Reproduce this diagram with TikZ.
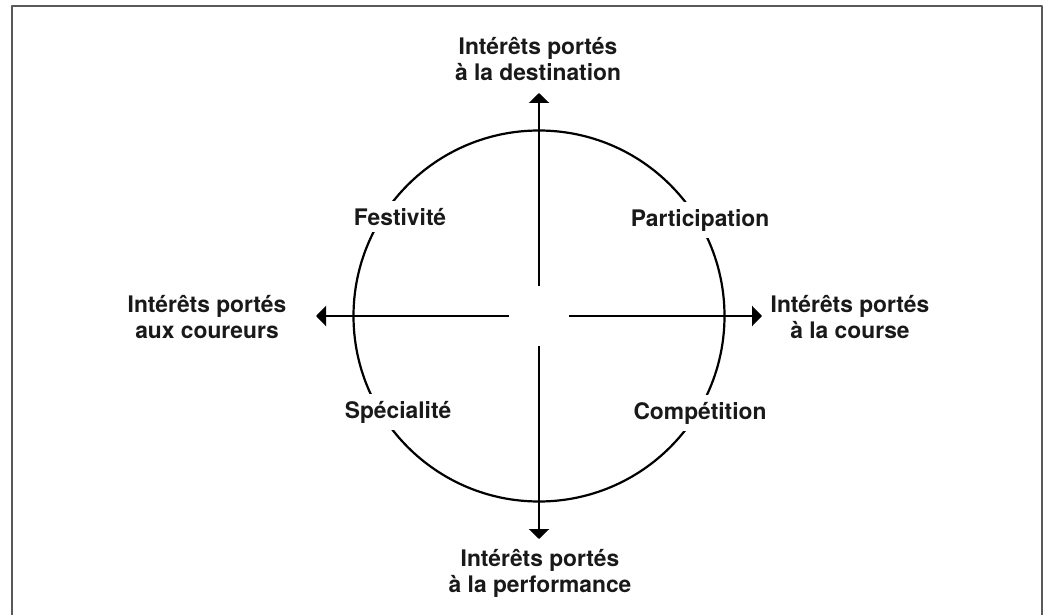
\documentclass[tikz,border=0pt]{standalone}
\usepackage{fontspec}
\setmainfont{TeX Gyre Heros}
\usetikzlibrary{arrows.meta,calc}

\begin{document}
\begin{tikzpicture}[line join=round,>={Triangle[length=10pt,width=20pt]},x=1pt,y=-1pt,
  lbl/.style={font=\fontsize{22.8}{26}\selectfont\bfseries,align=center,inner sep=0pt,text=black!90,anchor=base},
  quad/.style={lbl,fill=white,inner sep=7pt}]
\useasboundingbox (0,0) rectangle (1047,615);
\draw[line width=2pt,color=black!65] (11.5,615) -- (11.5,6.5) -- (1042,6.5) -- (1042,615);
\coordinate (c) at (539,316);
\draw[line width=2.2pt] (c) circle (185.5);
% les quatre profils
\node[quad] (fest) at (400,225) {Festivité};
\node[quad] (part) at (700,226) {Participation};
\node[quad] (spec) at (398,418) {Spécialité};
\node[quad] (comp) at (700,419) {Compétition};
% axes
\foreach \n/\dx/\dy in {dest/0/-1,perf/0/1,cour/-1/0,course/1/0}{
  \coordinate (in-\n) at ($(c)+(30*\dx,30*\dy)$);
  \coordinate (tip-\n) at ($(c)+(223*\dx,223*\dy)$);
  \draw[->,line width=2.3pt] (in-\n) -- (tip-\n);
}
\node[lbl] (dest) at (538,81) {Intérêts portés\\à la destination};
\node[lbl] (perf) at (540,592) {Intérêts portés\\à la performance};
\node[lbl] (cour) at (207,338) {Intérêts portés\\aux coureurs};
\node[lbl] (course) at (850,338) {Intérêts portés\\à la course};

\end{tikzpicture}
\end{document}
